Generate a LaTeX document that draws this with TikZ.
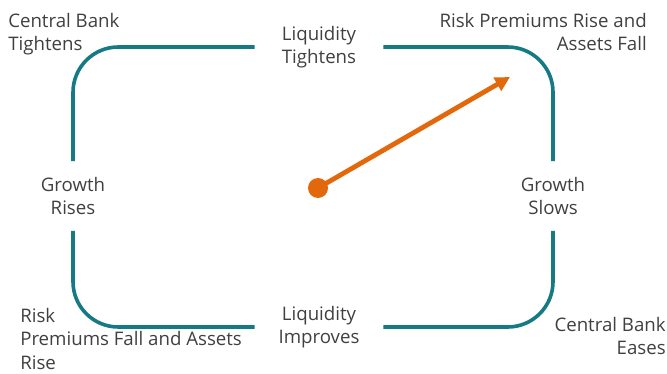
\documentclass[tikz,border=0pt]{standalone}
\usepackage{fontspec}
\setmainfont{Open Sans}
\usetikzlibrary{positioning,calc}
\usetikzlibrary{arrows.meta}
\definecolor{cycleteal}{RGB}{22,122,132}
\definecolor{driftorange}{RGB}{227,104,12}
\definecolor{labelgray}{RGB}{64,64,64}
\tikzset{
   stage/.style={text=labelgray, align=center, font=\fontsize{14}{17.5}\selectfont, inner sep=0pt},
   stagetop/.style={stage, minimum width=96pt, minimum height=30pt},
   stageside/.style={stage, minimum height=52pt, minimum width=40pt},
   corner/.style={text=labelgray, font=\fontsize{14}{17.5}\selectfont, inner sep=0pt},
   cycleline/.style={draw=cycleteal, line width=2.7pt, rounded corners=34pt},
}

\begin{document}
\begin{tikzpicture}[x=0.75pt,y=-0.75pt]
      \useasboundingbox (0,0) rectangle (667,374);

      % four stages of the cycle
      \node[stagetop]  (lt) at (319,47)  {Liquidity\\Tightens};
      \node[stageside] (gr) at (73,196)  {Growth\\Rises};
      \node[stageside] (gs) at (553,196) {Growth\\Slows};
      \node[stagetop]  (li) at (319,327) {Liquidity\\Improves};

      % loop between stages
      \draw[cycleline] (lt.west) -| (gr.north);
      \draw[cycleline] (gr.south) |- (li.west);
      \draw[cycleline] (li.east) -| (gs.south);
      \draw[cycleline] (gs.north) |- (lt.east);

      % corner labels
      \node[corner, align=left,  anchor=north west] (cbt) at (8,13)    {Central Bank\\Tightens};
      \node[corner, align=right, anchor=north east] (rpr) at (647,13)  {Risk Premiums Rise and\\Assets Fall};
      \node[corner, align=left,  anchor=north west] (rpf) at (20,308)  {Risk\\Premiums Fall and Assets\\Rise};
      \node[corner, align=right, anchor=north east] (cbe) at (666,317) {Central Bank\\Eases};

      % current position
      \node[circle, fill=driftorange, minimum size=15pt, inner sep=0pt] (now) at (318,188) {};
      \coordinate (head) at (510,77);
      \draw[driftorange, line width=3.6pt, -{Triangle[length=11pt,width=11pt]}] (now.center) -- (head);
\end{tikzpicture}
\end{document}
